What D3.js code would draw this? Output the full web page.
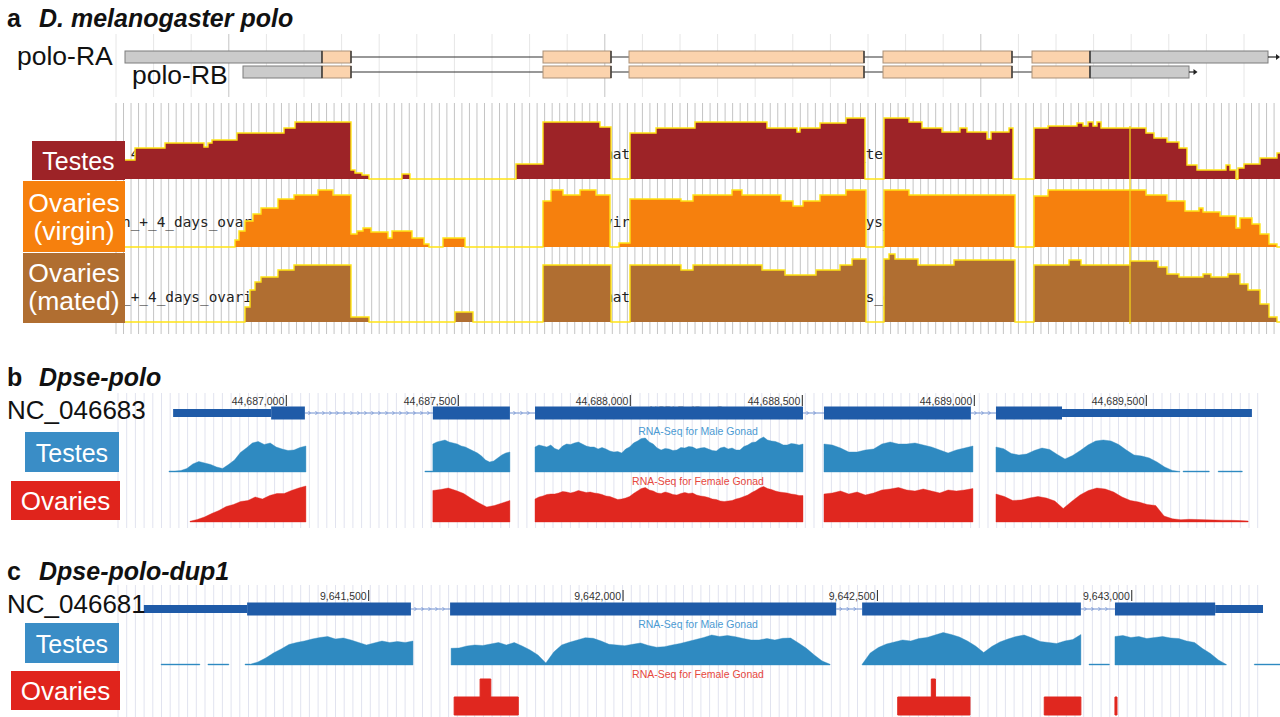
<!DOCTYPE html>
<html>
<head>
<meta charset="utf-8">
<script src="https://cdn.jsdelivr.net/npm/d3@7"></script>
<style>
  html, body { margin: 0; padding: 0; background: #fff; }
  svg { display: block; font-family: "Liberation Sans", Arial, Helvetica, sans-serif; }
</style>
</head>
<body>
<svg id="fig" width="1280" height="717"></svg>
<script>
// ===================== DATA =====================

// ---- a: D. melanogaster polo (bp from the left edge of the view window) ----
const melWindow = [0, 4660];
const poloRA = [
  { start: 40,   end: 828,  coding: false },
  { start: 828,  end: 944,  coding: true },
  { start: 1712, end: 1984, coding: true },
  { start: 2056, end: 2996, coding: true },
  { start: 3072, end: 3588, coding: true },
  { start: 3668, end: 3900, coding: true },
  { start: 3900, end: 4612, coding: false }
];
const poloRB = [
  { start: 512,  end: 828,  coding: false },
  { start: 828,  end: 944,  coding: true },
  { start: 1712, end: 1984, coding: true },
  { start: 2056, end: 2996, coding: true },
  { start: 3072, end: 3588, coding: true },
  { start: 3668, end: 3900, coding: true },
  { start: 3900, end: 4296, coding: false }
];
const transcriptNames = ["polo-RA", "polo-RB"];

// binned read depth, [position, depth] steps
const melTestes = [[40,19],[80,31],[200,36],[356,32],[372,36],[388,39],[488,46],[676,51],[720,57],[944,9],[960,6],[988,4],[1016,0],[1148,5],[1180,0],[1604,15],[1712,57],[1940,52],[1984,0],[2060,46],[2164,51],[2320,57],[2608,51],[2728,47],[2740,51],[2820,56],[2924,61],[3000,0],[3076,61],[3176,57],[3228,51],[3308,47],[3380,51],[3408,47],[3488,40],[3504,47],[3576,51],[3592,0],[3676,51],[3732,53],[3848,56],[3872,53],[3892,57],[3912,53],[3928,57],[3944,51],[4124,46],[4156,41],[4208,37],[4256,31],[4288,14],[4328,9],[4444,14],[4460,9],[4484,0],[4492,11],[4516,15],[4580,21],[4648,26],[4660,26]];
const melOvVirgin = [[40,0],[480,7],[496,16],[520,26],[552,33],[584,39],[652,48],[716,52],[812,57],[872,52],[944,13],[968,16],[992,19],[1024,15],[1092,9],[1108,16],[1188,9],[1236,3],[1256,0],[1312,9],[1400,0],[1712,46],[1744,57],[1792,52],[1860,57],[1924,52],[1980,0],[2016,4],[2060,48],[2264,46],[2312,52],[2468,57],[2508,52],[2664,46],[2712,41],[2752,46],[2820,52],[2924,57],[3004,0],[3076,57],[3176,52],[3600,0],[3676,51],[3732,57],[4124,52],[4208,46],[4280,36],[4336,39],[4352,35],[4420,31],[4484,19],[4500,29],[4548,23],[4580,13],[4616,3],[4648,0],[4660,0]];
const melOvMated = [[40,0],[520,15],[540,32],[560,40],[584,45],[652,52],[716,57],[944,5],[1016,0],[1360,10],[1432,0],[1712,57],[1984,0],[2060,57],[2264,52],[2312,57],[2588,52],[2680,47],[2804,52],[2900,57],[2948,63],[3004,0],[3076,63],[3096,68],[3120,63],[3212,57],[3356,62],[3600,0],[3676,57],[3816,62],[3864,57],[4060,61],[4172,55],[4208,48],[4256,45],[4352,48],[4384,45],[4452,48],[4500,38],[4532,32],[4580,18],[4616,5],[4648,0],[4660,0]];
const melTrackNames = ["mated_4_days_testes", "virgin_+_4_days_ovaries", "mated_+_4_days_ovaries"];
const melTissues = [["Testes"], ["Ovaries", "(virgin)"], ["Ovaries", "(mated)"]];
const melMarker = 4060;

// ---- b: Dpse-polo on NC_046683 ----
const polioTicks = [44687000, 44687500, 44688000, 44688500, 44689000, 44689500];
const polioExons = [
  { start: 44686671, end: 44686956, coding: false },
  { start: 44686956, end: 44687054, coding: true },
  { start: 44687426, end: 44687650, coding: true },
  { start: 44687723, end: 44688502, coding: true },
  { start: 44688563, end: 44688990, coding: true },
  { start: 44689063, end: 44689255, coding: true },
  { start: 44689255, end: 44689807, coding: false }
];
// coverage blocks: evenly spaced depth samples between start and end
const polioTestes = [
  { start: 44686659, end: 44687057, v: [1,1,1.5,3.5,8,10.5,9,7.5,5,3.5,7.5,12,19.5,24,29,30.5,27.5,29,25,23,21.5,22,24.5,26] },
  { start: 44687403, end: 44687426, v: [1,1] },
  { start: 44687426, end: 44687650, v: [28,30,31,32,30,29,28,26,25,23,21,19,16,12,10,11,14,17,19,20] },
  { start: 44687723, end: 44688502, v: [25,27,26,25,27,23.5,22,26,28,27.5,29,30,28,26,25,25,23,24.5,23,21,20,20.5,19,23,25,29,31,33.5,34,30,28,24,22,23.5,23,21.5,22,24.5,24,25.5,25,23,24,24.5,23,21.5,21,24,25,23,24,22,22,25.5,27,29.5,30,33,35,32,31,30.5,29,27,27,28.5,28,27,28] },
  { start: 44688563, end: 44688996, v: [28,27,24,20,20,22,23,28,30,28,28,29,27,25,22,19,22,24,26] },
  { start: 44689063, end: 44689598, v: [25,23.3,18.5,17,18,21.5,24,22.5,17.5,13,16.5,21.5,27,31,32,31,27.5,22,17,16,14,10,5,1.6,0.5] },
  { start: 44689607, end: 44689683, v: [1,1] },
  { start: 44689709, end: 44689779, v: [1,1] }
];
const polioOvaries = [
  { start: 44686720, end: 44687057, v: [0.7,2.5,5,8.5,11.5,15.5,17.5,20.5,21.5,25,23,26.5,28.5,28.5,31.5,34,36] },
  { start: 44687426, end: 44687650, v: [31.5,32.5,34,31.5,28.5,23.5,19,15,16.5,19,21.5] },
  { start: 44687723, end: 44688502, v: [23,25,26,27.5,28,28,29,30.5,30,29,30,31.5,30.5,29.5,30,29,28.5,27.5,26,25.5,24,22.5,23,24,25.5,28.5,31,33.5,34.5,32,31,29,28.5,30,29,27.5,27,28.5,29.5,28.5,29,27,26,25.5,24.5,23,22.5,21,20.5,21,21.5,23,24,25.5,27,29.5,31.5,34,35.5,33.5,32.5,31,30,29.5,29,28,27.5,26.5,26.5] },
  { start: 44688563, end: 44688996, v: [28,29,31,28,30,27,29,32,33,34.5,32,31,33,31,29,32,31,32,33.5] },
  { start: 44689063, end: 44689796, v: [28,25.5,21.5,22,24,25.5,24,21,13.5,20.5,27,31.5,34,33,30,25,21.5,20,17.5,16.5,6,3.2,2.3,2.7,2.5,2.2,2,1.8,1.7,1.4,1] }
];

// ---- c: Dpse-polo-dup1 on NC_046681 ----
const dupTicks = [9641500, 9642000, 9642500, 9643000];
const dupExons = [
  { start: 9641058, end: 9641261, coding: false },
  { start: 9641261, end: 9641583, coding: true },
  { start: 9641660, end: 9642419, coding: true },
  { start: 9642470, end: 9642900, coding: true },
  { start: 9642967, end: 9643164, coding: true },
  { start: 9643164, end: 9643258, coding: false }
];
const dupTestes = [
  { start: 9641092, end: 9641168, v: [1,1] },
  { start: 9641184, end: 9641225, v: [1,1] },
  { start: 9641257, end: 9641267, v: [1,1] },
  { start: 9641267, end: 9641587, v: [0.7,3,7,12,16,20.5,22.5,24,26,27.5,28.5,26,27,25,22.5,20,22,24,22.5,23.5,22.5,24] },
  { start: 9641662, end: 9642407, v: [16.7,17,19,20,19.5,21,22.5,20,22.5,19,15,10,2,13,20,22.7,25,27.3,26.7,24,20.7,20,19.3,20.7,22,19.5,17.8,18.3,20,21.5,23.5,25.5,27.5,30,28.5,29.5,28.3,26.5,25,25,26.5,25,26.7,27,22,16.7,10,4,0.7] },
  { start: 9642470, end: 9642900, v: [0.7,12,17.5,21,23,25,24,26.5,27.5,30,32.5,30.5,28,24,19,12.5,18.5,23,26,28.5,30,27,23.5,22.5,21.5,24,25.5,30.5] },
  { start: 9642916, end: 9642956, v: [1,1] },
  { start: 9642967, end: 9643186, v: [28.5,29.5,27.5,28.5,26.5,27.5,28.5,27,26.5,24,22.5,16.5,11.5,5,0.5] },
  { start: 9643241, end: 9643292, v: [1,1] }
];
// [start, end, reads]
const dupOvaries = [
  [9641668, 9641719, 1], [9641719, 9641740, 2], [9641740, 9641794, 1],
  [9642540, 9642606, 1], [9642606, 9642614, 2], [9642614, 9642682, 1],
  [9642828, 9642900, 1], [9642967, 9642971, 1]
];

// ===================== DRAWING =====================
const svg = d3.select("#fig");
const MONO = '"DejaVu Sans Mono", "Liberation Mono", monospace';

const C = {
  testesA: "#9d2327", virgin: "#f6800d", mated: "#b06e31", outline: "#ffe414",
  utr: "#cbcbcb", utrEdge: "#7d7d7d", cds: "#fbd3ad", cdsEdge: "#ab9178",
  geneBlue: "#1f5ba8", intron: "#6f8fd0", blue: "#2f8ac1", blueBox: "#3a8dc6",
  red: "#e0271f", redBox: "#e0241c", blueText: "#4b9ad2", redText: "#e6483e"
};

function title(x, y, letter, name) {
  const t = svg.append("text").attr("x", x).attr("y", y)
    .attr("font-size", 25).attr("font-weight", "bold").attr("fill", "#111");
  t.append("tspan").text(letter);
  t.append("tspan").attr("x", x + 32).attr("font-style", "italic").text(name);
}

function labelBox(x, y, w, h, fill, lines, baselines, sizes) {
  svg.append("rect").attr("x", x).attr("y", y).attr("width", w).attr("height", h).attr("fill", fill);
  lines.forEach((s, i) => {
    svg.append("text").attr("x", x + w / 2).attr("y", baselines[i])
      .attr("text-anchor", "middle").attr("font-size", sizes[i]).attr("fill", "#fff").text(s);
  });
}

// ---------- panel a ----------
const xa = d3.scaleLinear().domain(melWindow).range([115, 1280]);
const gA = svg.append("g");

// sparse ruler grid behind the gene models
d3.range(0, 31).forEach(i => {
  const x = 116 + i * 37.6;
  if (x > 1280) return;
  gA.append("line").attr("x1", x).attr("x2", x).attr("y1", 34).attr("y2", 97)
    .attr("stroke", i % 10 === 3 ? "#c4c4c4" : "#e6e6e6").attr("stroke-width", 1);
});
// dense grid behind the coverage tracks
d3.range(0, 160).forEach(i => {
  const x = 116 + i * 7.52;
  if (x > 1280) return;
  gA.append("line").attr("x1", x).attr("x2", x).attr("y1", 103).attr("y2", 334)
    .attr("stroke", "#c4c4c4").attr("stroke-width", 1);
});

function drawMelTranscript(exons, yc, arrowTo) {
  const g = gA.append("g");
  const first = exons[0].start, last = exons[exons.length - 1].end;
  g.append("line").attr("x1", xa(first)).attr("x2", xa(last))
    .attr("y1", yc).attr("y2", yc).attr("stroke", "#333").attr("stroke-width", 1.2);
  g.selectAll("rect").data(exons).join("rect")
    .attr("x", d => xa(d.start)).attr("y", yc - 6)
    .attr("width", d => xa(d.end) - xa(d.start)).attr("height", 12)
    .attr("fill", d => d.coding ? C.cds : C.utr)
    .attr("stroke", d => d.coding ? C.cdsEdge : C.utrEdge).attr("stroke-width", 1);
  // dark edge at the 3' side of each coding block and at the UTR/CDS junction
  g.selectAll("line.edge").data(exons.filter(d => d.coding)).join("line")
    .attr("class", "edge")
    .attr("x1", d => xa(d.end)).attr("x2", d => xa(d.end))
    .attr("y1", yc - 6).attr("y2", yc + 6).attr("stroke", "#333").attr("stroke-width", 1.4);
  g.selectAll("line.start").data(exons.filter((d, i) => d.coding && i > 0 && !exons[i - 1].coding)).join("line")
    .attr("class", "start")
    .attr("x1", d => xa(d.start)).attr("x2", d => xa(d.start))
    .attr("y1", yc - 6).attr("y2", yc + 6).attr("stroke", "#333").attr("stroke-width", 1.4);
  // strand arrow
  const xe = xa(last), xt = xa(arrowTo);
  if (xt - xe > 6) {
    g.append("line").attr("x1", xe).attr("x2", xt - 3).attr("y1", yc).attr("y2", yc)
      .attr("stroke", "#222").attr("stroke-width", 1.2);
  }
  g.append("path").attr("d", `M${xt - 4},${yc - 3}L${xt},${yc}L${xt - 4},${yc + 3}Z`).attr("fill", "#222");
}
drawMelTranscript(poloRA, 57, 4660);
drawMelTranscript(poloRB, 72, 4330);

svg.append("text").attr("x", 17).attr("y", 65).attr("font-size", 26.5).attr("fill", "#111").text(transcriptNames[0]);
svg.append("text").attr("x", 132).attr("y", 84).attr("font-size", 26.5).attr("fill", "#111").text(transcriptNames[1]);

// coverage tracks
svg.append("clipPath").attr("id", "melClip").append("rect")
  .attr("x", 116).attr("y", 100).attr("width", 1164).attr("height", 240);
const melBases = [179, 247, 322];
const melSeries = [melTestes, melOvVirgin, melOvMated];
const melFills = [C.testesA, C.virgin, C.mated];
// the track name is printed at three places along each track, mostly hidden by the coverage
const namePlacements = [
  { at: 28,   text: s => s.slice(5) },
  { at: 1956, text: s => s.slice(0, 16) },
  { at: 2552, text: s => s }
];
melSeries.forEach((data, k) => {
  const base = melBases[k];
  const y = d3.scaleLinear().domain([0, 70]).range([base, base - 70]);
  const g = gA.append("g").attr("clip-path", "url(#melClip)");
  namePlacements.forEach(p => {
    g.append("text").attr("x", xa(p.at)).attr("y", base - 20)
      .attr("font-family", MONO).attr("font-size", 14.4).attr("fill", "#222")
      .text(p.text(melTrackNames[k]));
  });
  const area = d3.area().curve(d3.curveStepAfter)
    .x(d => xa(d[0])).y0(base).y1(d => y(d[1]));
  const line = d3.line().curve(d3.curveStepAfter)
    .x(d => xa(d[0])).y(d => y(d[1]));
  g.append("path").datum(data).attr("d", area).attr("fill", melFills[k]);
  g.append("path").datum(data).attr("d", line).attr("fill", "none")
    .attr("stroke", C.outline).attr("stroke-width", 1.4);
});
gA.append("line").attr("x1", xa(melMarker)).attr("x2", xa(melMarker))
  .attr("y1", 126).attr("y2", 324).attr("stroke", "#f2d21a").attr("stroke-width", 1.3);

labelBox(32, 141, 93, 39, C.testesA, melTissues[0], [170], [25]);
labelBox(23, 181, 102, 71, C.virgin, melTissues[1], [212, 240], [26.5, 26.5]);
labelBox(23, 253, 102, 70, C.mated, melTissues[2], [282, 310], [26.5, 26.5]);

title(7, 27, "a", "D. melanogaster polo");

// ---------- panels b and c ----------
function drawBrowser(opt) {
  const x = opt.x;
  const g = svg.append("g");
  // grid
  d3.range(0, 140).forEach(i => {
    const gx = 118 + i * 8.7;
    if (gx > 1262) return;
    g.append("line").attr("x1", gx).attr("x2", gx).attr("y1", opt.gridTop).attr("y2", opt.gridBottom)
      .attr("stroke", "#e1e3ef").attr("stroke-width", 1);
  });
  // position ruler
  const fmt = d3.format(",");
  opt.ticks.forEach(t => {
    const tx = x(t);
    g.append("line").attr("x1", tx).attr("x2", tx).attr("y1", opt.rulerY - 10).attr("y2", opt.rulerY + 1)
      .attr("stroke", "#222").attr("stroke-width", 1);
    g.append("text").attr("x", tx - 2).attr("y", opt.rulerY).attr("text-anchor", "end")
      .attr("font-size", 10.5).attr("fill", "#333").text(fmt(t));
  });
  if (opt.trackTitle) {
    g.append("text").attr("x", 698).attr("y", opt.geneY + 1).attr("text-anchor", "middle")
      .attr("font-size", 10.5).attr("fill", "#a8a8a8").text(opt.trackTitle);
  }
  // gene model: introns with strand chevrons, then exon blocks
  const ex = opt.exons;
  for (let i = 0; i < ex.length - 1; i++) {
    const a = x(ex[i].end), b = x(ex[i + 1].start);
    if (b - a < 1) continue;
    g.append("line").attr("x1", a).attr("x2", b).attr("y1", opt.geneY).attr("y2", opt.geneY)
      .attr("stroke", C.intron).attr("stroke-width", 1);
    for (let cx = a + 5; cx < b - 3; cx += 7) {
      g.append("path").attr("d", `M${cx - 1.5},${opt.geneY - 2}L${cx + 0.5},${opt.geneY}L${cx - 1.5},${opt.geneY + 2}`)
        .attr("fill", "none").attr("stroke", C.intron).attr("stroke-width", 0.8);
    }
  }
  g.selectAll("rect.exon").data(ex).join("rect").attr("class", "exon")
    .attr("x", d => x(d.start)).attr("width", d => x(d.end) - x(d.start))
    .attr("y", d => opt.geneY - (d.coding ? 6.5 : 4))
    .attr("height", d => d.coding ? 13 : 8)
    .attr("fill", C.geneBlue);

  // testes coverage
  const yT = d3.scaleLinear().domain([0, 40]).range([opt.testesBase, opt.testesBase - 40]);
  const areaT = d3.area().x(d => x(d[0])).y0(opt.testesBase).y1(d => yT(d[1]));
  const pts = seg => seg.v.map((d, i) => [seg.start + (seg.end - seg.start) * i / (seg.v.length - 1), d]);
  g.selectAll("path.cvT").data(opt.testes).join("path").attr("class", "cvT")
    .attr("d", d => areaT(pts(d))).attr("fill", C.blue).attr("stroke", C.blue).attr("stroke-width", 0.4);
  g.append("text").attr("x", 698).attr("y", opt.testesBase - 37).attr("text-anchor", "middle")
    .attr("font-size", 10.5).attr("fill", C.blueText).text("RNA-Seq for Male Gonad");

  // ovaries coverage
  g.append("text").attr("x", 698).attr("y", opt.ovBase - 37).attr("text-anchor", "middle")
    .attr("font-size", 10.5).attr("fill", C.redText).text("RNA-Seq for Female Gonad");
  if (opt.ovaries) {
    const yO = d3.scaleLinear().domain([0, 40]).range([opt.ovBase, opt.ovBase - 40]);
    const areaO = d3.area().x(d => x(d[0])).y0(opt.ovBase).y1(d => yO(d[1]));
    g.selectAll("path.cvO").data(opt.ovaries).join("path").attr("class", "cvO")
      .attr("d", d => areaO(pts(d))).attr("fill", C.red).attr("stroke", C.red).attr("stroke-width", 0.4);
  }
  if (opt.ovaryReads) {
    // join touching read intervals into continuous step blocks
    const groups = [];
    opt.ovaryReads.forEach(r => {
      const lastG = groups[groups.length - 1];
      if (lastG && lastG[lastG.length - 1][0] === r[0]) lastG.push([r[0], r[2]], [r[1], r[2]]);
      else groups.push([[r[0], r[2]], [r[1], r[2]]]);
    });
    const yR = d3.scaleLinear().domain([0, 2]).range([opt.ovBase, opt.ovBase - 36]);
    const areaR = d3.area().x(d => x(d[0])).y0(opt.ovBase).y1(d => yR(d[1]));
    g.selectAll("path.rd").data(groups).join("path").attr("class", "rd")
      .attr("d", areaR).attr("fill", C.red).attr("stroke", C.red).attr("stroke-width", 1);
  }
}

const xb = d3.scaleLinear().domain([44687000, 44689500]).range([286.3, 1146.3]);
drawBrowser({
  x: xb, ticks: polioTicks, exons: polioExons, testes: polioTestes, ovaries: polioOvaries,
  gridTop: 393, gridBottom: 528, rulerY: 405, geneY: 413, testesBase: 472, ovBase: 522,
  trackTitle: "NCBI RefSeq Genes"
});
title(7, 386, "b", "Dpse-polo");
svg.append("text").attr("x", 7).attr("y", 419).attr("font-size", 26).attr("fill", "#111").text("NC_046683");
labelBox(25, 432, 94, 40, C.blueBox, ["Testes"], [462], [25]);
labelBox(11, 481, 109, 39, C.redBox, ["Ovaries"], [510], [26]);

const xc = d3.scaleLinear().domain([9641500, 9643000]).range([368.7, 1131.75]);
drawBrowser({
  x: xc, ticks: dupTicks, exons: dupExons, testes: dupTestes, ovaryReads: dupOvaries,
  gridTop: 585, gridBottom: 717, rulerY: 600, geneY: 609, testesBase: 665, ovBase: 715
});
title(7, 580, "c", "Dpse-polo-dup1");
svg.append("text").attr("x", 7).attr("y", 613).attr("font-size", 26).attr("fill", "#111").text("NC_046681");
labelBox(25, 623, 94, 40, C.blueBox, ["Testes"], [653], [25]);
labelBox(11, 671, 109, 39, C.redBox, ["Ovaries"], [700], [26]);
</script>
</body>
</html>
